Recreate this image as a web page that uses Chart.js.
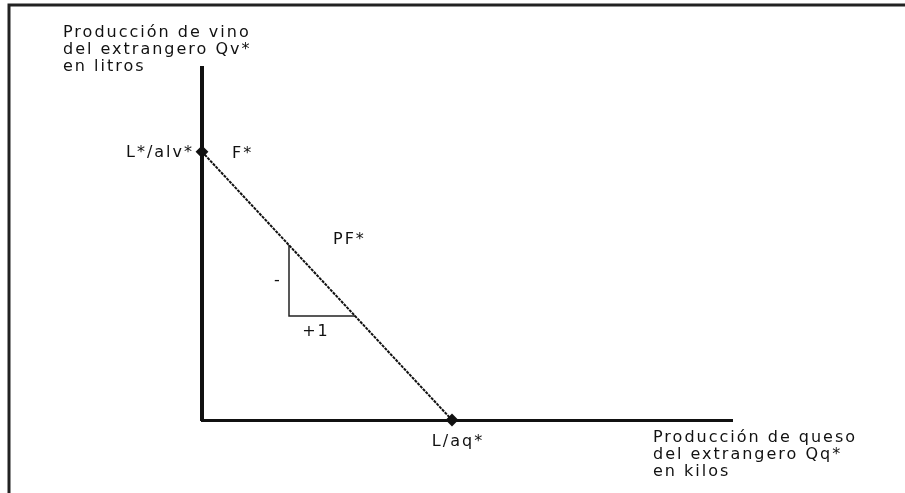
<!DOCTYPE html>
<html>
<head>
<meta charset="utf-8">
<script src="https://cdn.jsdelivr.net/npm/chart.js@4/dist/chart.umd.min.js"></script>
<style>
  html, body { margin: 0; padding: 0; background: #fff; }
  #wrap { width: 905px; height: 493px; }
</style>
</head>
<body>
<div id="wrap"><canvas id="ppfChart" width="905" height="493"></canvas></div>
<script>
// Frontera de posibilidades de producción del extranjero
const axisMax = { x: 10.6, y: 10.5 };
const ppfPoints = [{ x: 0, y: 8 }, { x: 5, y: 0 }];                       // F* y L/aq*
const slopeTriangle = [{ x: 1.74, y: 5.22 }, { x: 1.74, y: 3.1 }, { x: 3.06, y: 3.1 }];
const yTitle = ["Producción de vino", "del extrangero Qv*", "en litros"];
const xTitle = ["Producción de queso", "del extrangero Qq*", "en kilos"];
const pointLabels = ["L*/alv*", "F*", "PF*", "-", "+1", "L/aq*"];

const FONT = '16px "DejaVu Sans"';

// Draws the frame, the axis titles and the labels next to the marks
const labelsPlugin = {
  id: 'labels',
  afterDraw(chart) {
    const ctx = chart.ctx;
    const xs = chart.scales.x, ys = chart.scales.y;
    ctx.save();

    // picture frame (left and top edges)
    ctx.strokeStyle = '#222';
    ctx.lineWidth = 3;
    ctx.beginPath();
    ctx.moveTo(9, 493);
    ctx.lineTo(9, 5);
    ctx.lineTo(905, 5);
    ctx.stroke();

    ctx.fillStyle = '#111';
    ctx.font = FONT;
    ctx.letterSpacing = '2px';
    ctx.textBaseline = 'middle';

    // y axis title above the axis
    ctx.textAlign = 'left';
    yTitle.forEach((t, i) => ctx.fillText(t, 63, 33 + i * 17));
    // x axis title below the right end
    xTitle.forEach((t, i) => ctx.fillText(t, 653, 438 + i * 17));

    const top = ppfPoints[0], end = ppfPoints[1];
    const tri = slopeTriangle;

    ctx.textAlign = 'right';
    ctx.fillText(pointLabels[0], xs.getPixelForValue(top.x) - 8, ys.getPixelForValue(top.y) + 1);
    ctx.textAlign = 'left';
    ctx.fillText(pointLabels[1], xs.getPixelForValue(top.x) + 30, ys.getPixelForValue(top.y) + 2);
    ctx.fillText(pointLabels[2], xs.getPixelForValue(tri[0].x) + 44, ys.getPixelForValue(tri[0].y) - 5);
    ctx.textAlign = 'center';
    ctx.fillText(pointLabels[3], xs.getPixelForValue(tri[0].x) - 11, (ys.getPixelForValue(tri[0].y) + ys.getPixelForValue(tri[1].y)) / 2);
    ctx.fillText(pointLabels[4], (xs.getPixelForValue(tri[1].x) + xs.getPixelForValue(tri[2].x)) / 2 - 6, ys.getPixelForValue(tri[1].y) + 16);
    ctx.fillText(pointLabels[5], xs.getPixelForValue(end.x) + 6, ys.getPixelForValue(end.y) + 22);

    ctx.restore();
  }
};

new Chart(document.getElementById('ppfChart'), {
  type: 'scatter',
  data: {
    datasets: [
      {
        label: 'PF*',
        data: ppfPoints,
        showLine: true,
        clip: false,
        borderColor: '#111',
        borderWidth: 2,
        borderDash: [3, 1],
        pointRadius: 5,
        pointStyle: 'rectRot',
        pointBorderWidth: 2,
        pointBorderColor: '#111',
        pointBackgroundColor: '#111'
      },
      {
        label: 'pendiente',
        data: slopeTriangle,
        showLine: true,
        borderColor: '#222',
        borderWidth: 1.5,
        pointRadius: 0
      }
    ]
  },
  options: {
    responsive: false,
    animation: false,
    layout: { padding: { left: 194, right: 173, top: 68, bottom: 65 } },
    plugins: { legend: { display: false }, tooltip: { enabled: false } },
    scales: {
      x: {
        type: 'linear', min: 0, max: axisMax.x,
        grid: { display: false },
        ticks: { display: false },
        border: { color: '#111', width: 3 }
      },
      y: {
        type: 'linear', min: 0, max: axisMax.y,
        grid: { display: false },
        ticks: { display: false },
        border: { color: '#111', width: 4 }
      }
    }
  },
  plugins: [labelsPlugin]
});
</script>
</body>
</html>
